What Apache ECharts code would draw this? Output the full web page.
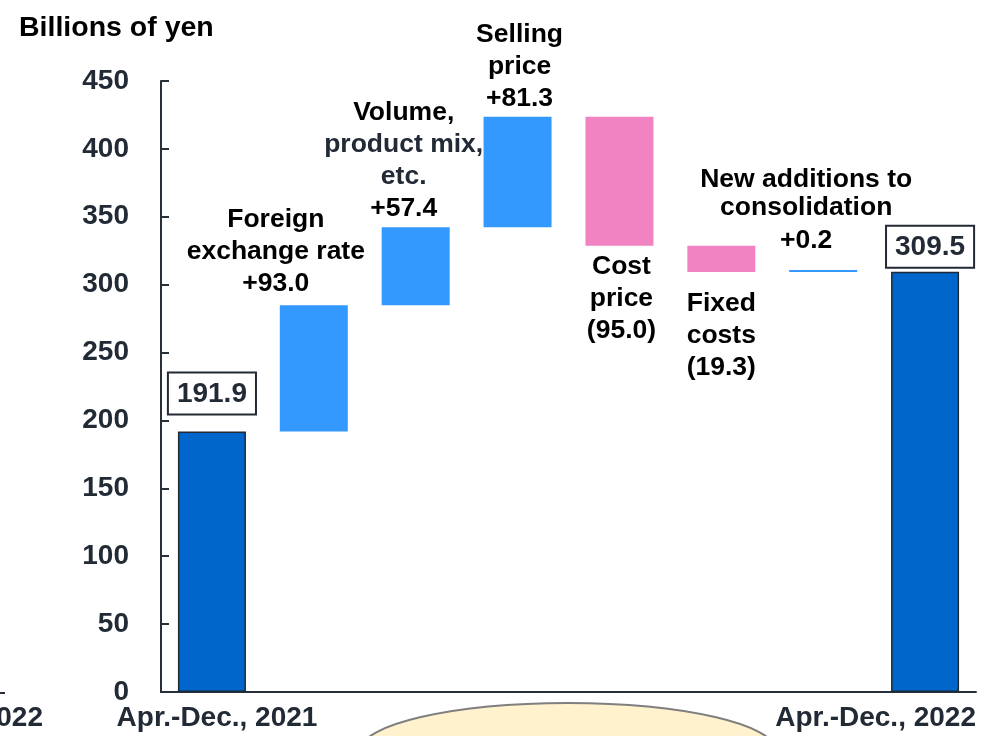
<!DOCTYPE html>
<html>
<head>
<meta charset="utf-8">
<script src="https://cdn.jsdelivr.net/npm/echarts@6/dist/echarts.min.js"></script>
<style>
html,body{margin:0;padding:0;background:#fff}
#main{width:981px;height:736px}
</style>
</head>
<body>
<div id="main"></div>
<script>
// 数据
var categories = ['Apr.-Dec., 2021', 'Foreign exchange rate', 'Volume, product mix, etc.', 'Selling price',
    'Cost price', 'Fixed costs', 'New additions to consolidation', 'Apr.-Dec., 2022'];
var stepNames = ['', 'Foreign\nexchange rate', 'Volume,\nproduct mix,\netc.', 'Selling\nprice',
    'Cost\nprice', 'Fixed\ncosts', 'New additions to\nconsolidation', ''];
var baseValues = [0, 191.9, 284.9, 342.3, 328.6, 309.3, 309.3, 0];
var deltaValues = [191.9, 93.0, 57.4, 81.3, 95.0, 19.3, 0.2, 309.5];
var deltaKinds = ['total', 'up', 'up', 'up', 'down', 'down', 'up', 'total'];
var prevYearLabel = 'Apr.-Dec., 2022';
var yMin = 0, yMax = 450, yStep = 50;

var FONT = '"Liberation Sans", Arial, sans-serif';
var colors = {total: '#0066CC', up: '#3399FF', down: '#F283C2'};

/* 各柱标签位置 */
var labelPos = [
    {position: 'top', distance: 18, offset: [0, 0]},
    {position: 'top', distance: 5, offset: [-38, 0]},
    {position: 'top', distance: 3, offset: [-12, 0]},
    {position: 'top', distance: 2, offset: [2, 0]},
    {position: 'bottom', distance: 5, offset: [2, 0]},
    {position: 'bottom', distance: 16, offset: [0, 0]},
    {position: 'top', distance: 10, offset: [-17, 0]},
    {position: 'top', distance: 5, offset: [5, 0]}
];

function valueText(i) {
    var v = deltaValues[i].toFixed(1);
    if (deltaKinds[i] == 'up') return '+' + v;
    if (deltaKinds[i] == 'down') return '(' + v + ')';
    return v;
}

var deltaData = [];
for (var i = 0; i < deltaValues.length; i++) {
    var kind = deltaKinds[i];
    var p = labelPos[i];
    var item = {
        value: deltaValues[i],
        itemStyle: {color: colors[kind]},
        label: {show: true, position: p.position, distance: p.distance, offset: p.offset}
    };
    var lines = stepNames[i].split('\n');
    if (kind == 'total') {
        item.itemStyle.borderColor = '#1F2A36';
        item.itemStyle.borderWidth = 1.5;
        item.label.formatter = valueText(i);
        item.label.color = '#222A35';
        item.label.fontSize = 28;
        item.label.backgroundColor = '#fff';
        item.label.borderColor = '#222A35';
        item.label.borderWidth = 2;
        item.label.padding = [5, 8, 3, 8];
        item.label.lineHeight = 32;
    } else if (i == 2) {
        item.label.formatter = '{k|' + lines[0] + '}\n{g|' + lines[1] + '}\n{g|' + lines[2] + '}\n{k|' + valueText(i) + '}';
    } else if (i == 6) {
        // 两行标题行距较紧
        item.label.formatter = '{t|' + lines[0] + '}\n{t|' + lines[1] + '}\n{v|' + valueText(i) + '}';
    } else {
        item.label.formatter = stepNames[i] + '\n' + valueText(i);
    }
    deltaData.push(item);
}

var myChart = echarts.init(document.getElementById('main'));
var option = {
    animation: false,
    title: {
        text: 'Billions of yen',
        left: 14,
        top: 9,
        textStyle: {fontFamily: FONT, fontSize: 28.5, fontWeight: 'bold', color: '#000'}
    },
    grid: {left: 161, right: 5, top: 81, bottom: 44},
    xAxis: {
        type: 'category',
        data: categories,
        axisLine: {lineStyle: {color: '#262F3A', width: 2}},
        axisTick: {show: false},
        axisLabel: {show: false}
    },
    yAxis: {
        type: 'value',
        min: yMin,
        max: yMax,
        interval: yStep,
        splitLine: {show: false},
        axisLine: {show: true, lineStyle: {color: '#262F3A', width: 2}},
        axisTick: {show: true, inside: true, length: 8, lineStyle: {color: '#262F3A', width: 2}},
        axisLabel: {fontFamily: FONT, fontSize: 28, fontWeight: 'bold', color: '#222A35', margin: 32}
    },
    series: [
        {
            type: 'bar',
            stack: 'wf',
            barWidth: 68,
            silent: true,
            itemStyle: {color: 'transparent'},
            data: baseValues
        },
        {
            type: 'bar',
            stack: 'wf',
            barWidth: 68,
            barMinHeight: 2,
            label: {
                fontFamily: FONT,
                fontSize: 26.5,
                fontWeight: 'bold',
                color: '#000',
                lineHeight: 32,
                align: 'center',
                rich: {
                    k: {fontFamily: FONT, fontSize: 26.5, fontWeight: 'bold', color: '#000', lineHeight: 32},
                    g: {fontFamily: FONT, fontSize: 26.5, fontWeight: 'bold', color: '#222A35', lineHeight: 32},
                    t: {fontFamily: FONT, fontSize: 26.5, fontWeight: 'bold', color: '#000', lineHeight: 28},
                    v: {fontFamily: FONT, fontSize: 26.5, fontWeight: 'bold', color: '#000', lineHeight: 38}
                }
            },
            data: deltaData
        }
    ],
    graphic: [
        {
            type: 'ellipse',
            shape: {cx: 568, cy: 751, rx: 208, ry: 48},
            style: {fill: '#FFF2CC', stroke: '#7F7F7F', lineWidth: 2},
            z: -1
        },
        {
            type: 'line',
            shape: {x1: 0, y1: 693, x2: 5, y2: 693},
            style: {stroke: '#262F3A', lineWidth: 2}
        },
        {
            type: 'text',
            x: 43, y: 718,
            style: {text: prevYearLabel, font: 'bold 28px ' + FONT, fill: '#222A35', align: 'right', verticalAlign: 'middle'}
        },
        {
            type: 'text',
            x: 217, y: 718,
            style: {text: categories[0], font: 'bold 28px ' + FONT, fill: '#222A35', align: 'center', verticalAlign: 'middle'}
        },
        {
            type: 'text',
            x: 976, y: 718,
            style: {text: categories[7], font: 'bold 28px ' + FONT, fill: '#222A35', align: 'right', verticalAlign: 'middle'}
        }
    ]
};
myChart.setOption(option);
</script>
</body>
</html>
